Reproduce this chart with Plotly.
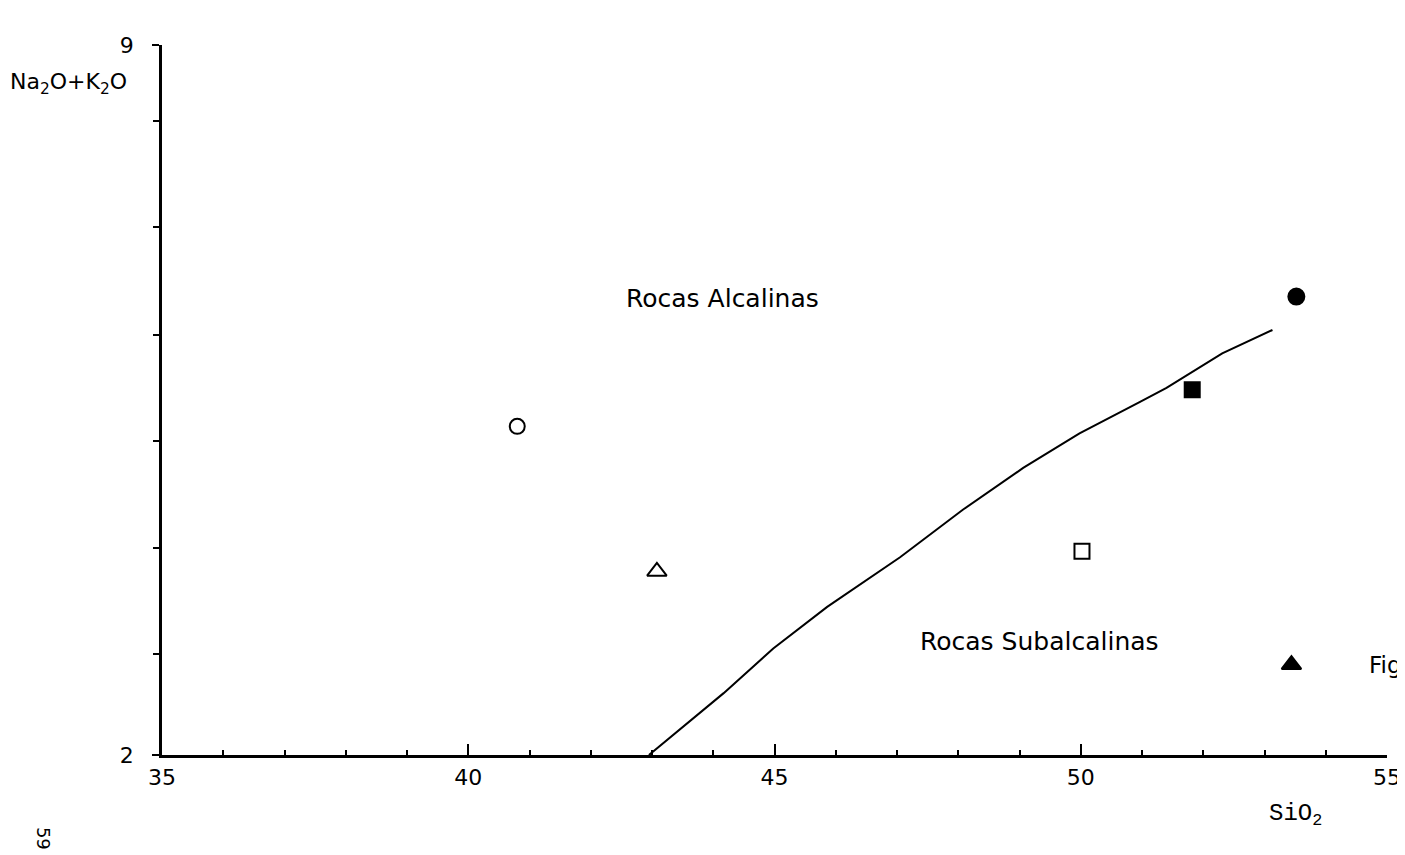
import plotly.graph_objects as go

# Sample points (SiO2 vs Na2O+K2O)
sio2 = [40.80, 43.08, 50.02, 51.82, 53.52, 53.44]
alk = [5.24, 3.81, 4.01, 5.60, 6.52, 2.89]
symbols = ["circle-open", "triangle-up-open", "square-open", "square", "circle", "triangle-up"]
sizes = [15, 17, 15, 15, 16, 17]

# Alkaline / subalkaline dividing curve
curve_x = [42.95, 44.17, 44.98, 45.86, 47.05, 48.08, 49.06, 49.98, 50.96, 51.40, 52.31, 53.13]
curve_y = [2.00, 2.61, 3.05, 3.46, 3.95, 4.42, 4.83, 5.17, 5.48, 5.62, 5.96, 6.19]

x_ticks = [35, 40, 45, 50, 55]
x_ticklabels = ["35", "40", "45", "50", "55"]
y_ticks = [2, 9]
y_ticklabels = ["2", "9"]
y_minor_ticks = [3.0, 4.04, 5.10, 6.14, 7.21, 8.25]

FONT = "DejaVu Sans"

fig = go.Figure()
fig.add_trace(go.Scatter(
    x=curve_x, y=curve_y, mode="lines",
    line=dict(color="black", width=2),
    hoverinfo="skip", showlegend=False,
))
fig.add_trace(go.Scatter(
    x=sio2, y=alk, mode="markers", opacity=1,
    marker=dict(symbol=symbols, size=sizes, color="#000000", opacity=1,
                line=dict(color="#000000", width=2)),
    showlegend=False,
))

fig.update_xaxes(
    range=[35, 55], showgrid=False, zeroline=False,
    showline=True, linecolor="black", linewidth=2.5,
    tickmode="array", tickvals=x_ticks, ticktext=x_ticklabels,
    ticks="inside", ticklen=11, tickwidth=2, tickcolor="black",
    minor=dict(dtick=1, ticks="inside", ticklen=5, tickwidth=1.5, tickcolor="black"),
    tickfont=dict(family=FONT, size=22, color="black"),
    ticklabelstandoff=1,
)
fig.update_yaxes(
    range=[2, 9], showgrid=False, zeroline=False,
    showline=True, linecolor="black", linewidth=2.5,
    tickmode="array", tickvals=y_ticks, ticktext=y_ticklabels,
    ticks="outside", ticklen=7, tickwidth=2, tickcolor="black",
    minor=dict(tickmode="array", tickvals=y_minor_ticks, ticks="outside",
               ticklen=6, tickwidth=2, tickcolor="black"),
    tickfont=dict(family=FONT, size=22, color="black"),
    ticklabelstandoff=14,
)

W, H = 1405, 855
L, R, T, B = 154, 17, 37, 108
# target plot-area pixels (as seen in the page)
PX0, PX1, PY0, PY1 = 162, 1388, 45, 755


def px(xp, yp):
    return (xp - PX0) / (PX1 - PX0), (PY1 - yp) / (PY1 - PY0)


def paper_note(xp, yp, text, **kw):
    x, y = px(xp, yp)
    d = dict(x=x, y=y, xref="paper", yref="paper", text=text, showarrow=False,
             xanchor="center", yanchor="middle")
    d.update(kw)
    return d


annots = [
    dict(x=44.15, y=6.50, xref="x", yref="y", text="Rocas Alcalinas",
         showarrow=False, font=dict(family=FONT, size=25, color="black")),
    dict(x=49.32, y=3.12, xref="x", yref="y", text="Rocas Subalcalinas",
         showarrow=False, font=dict(family=FONT, size=25, color="black")),
    paper_note(68, 83, "Na<sub>2</sub>O+K<sub>2</sub>O",
               font=dict(family=FONT, size=22, color="black")),
    paper_note(1296, 815, "SiO<sub>2</sub>",
               font=dict(family="Liberation Mono", size=24, color="black")),
    paper_note(1368, 665, "Fig", xanchor="left",
               font=dict(family=FONT, size=23, color="black")),
    paper_note(44, 838, "59", textangle=90,
               font=dict(family=FONT, size=18, color="black")),
]

fig.update_layout(
    width=W, height=H,
    margin=dict(l=L, r=R, t=T, b=B),
    paper_bgcolor="white", plot_bgcolor="white",
    annotations=annots,
    showlegend=False,
)

fig.write_html("out.html")
